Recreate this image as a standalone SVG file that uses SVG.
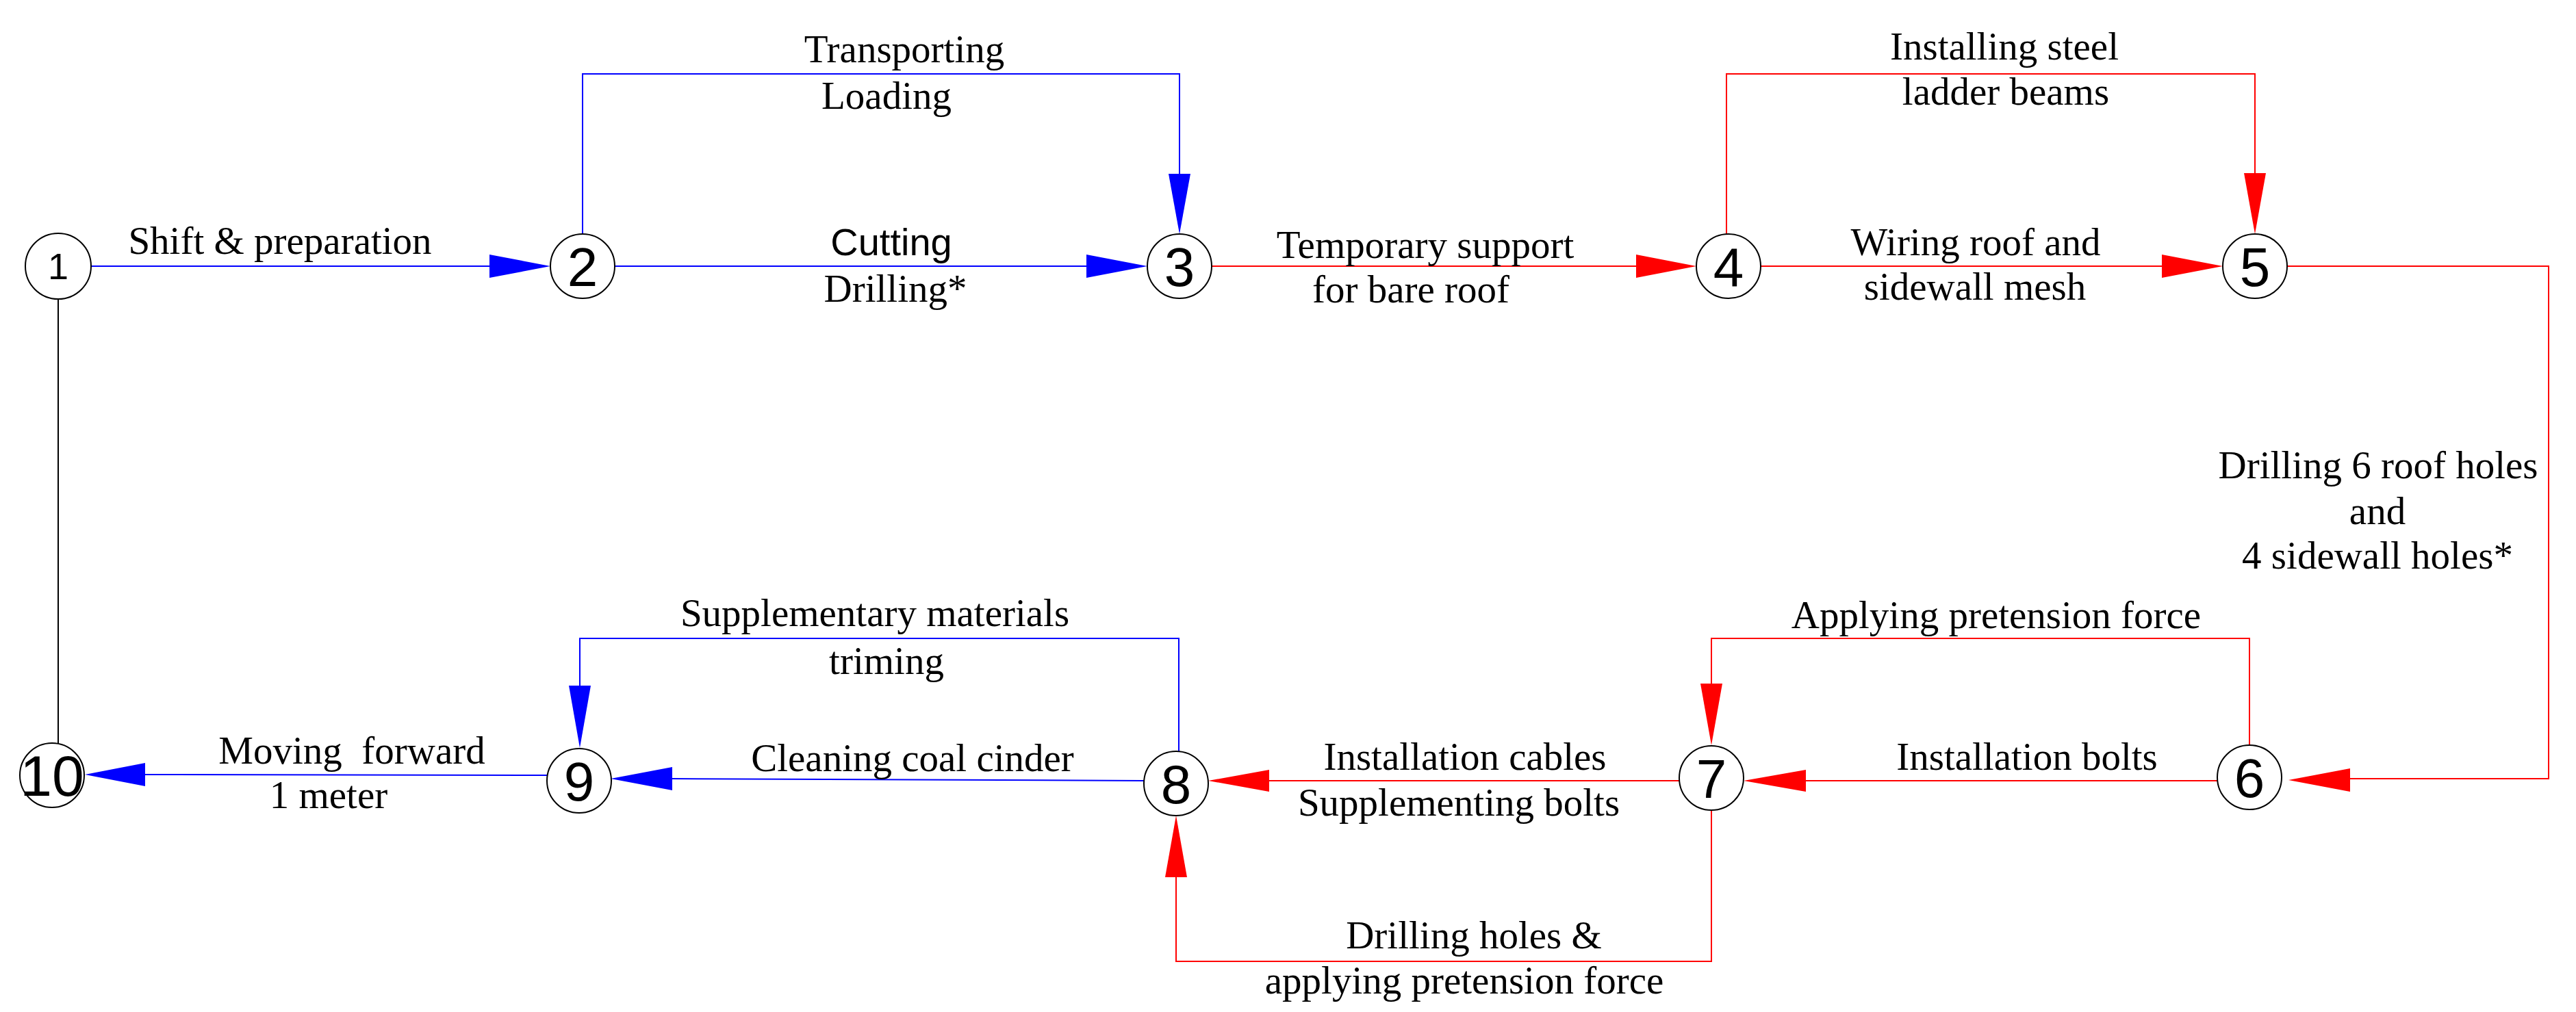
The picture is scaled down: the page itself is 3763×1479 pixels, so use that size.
<svg xmlns="http://www.w3.org/2000/svg" width="3763" height="1479" viewBox="0 0 3763 1479">
<style>
.bg{fill:#ffffff}
.node circle{fill:#ffffff;stroke:#000000;stroke-width:2}
.num{font-family:"Liberation Sans",Arial,sans-serif;font-size:80px;text-anchor:middle;fill:#000}
.lbl{font-family:"Liberation Serif","Times New Roman",serif;font-size:57px;text-anchor:middle;fill:#000}
.sans{font-family:"Liberation Sans",Arial,sans-serif;font-size:56px;text-anchor:middle;fill:#000}
.b{stroke:#0000ff;stroke-width:2;fill:none}
.r{stroke:#ff0000;stroke-width:2;fill:none}
.k{stroke:#000000;stroke-width:2;fill:none}
.ab{fill:#0000ff}
.ar{fill:#ff0000}
</style>
<rect class="bg" x="0" y="0" width="3763" height="1479"/>
<g id="connectors">
  <line class="k" x1="85" y1="437" x2="85" y2="1087"/>
  <line class="b" x1="133" y1="389" x2="716" y2="389"/>
  <polygon class="ab" points="804,389 715,372 715,406"/>
  <path class="b" d="M851,342 V108 H1723 V254"/>
  <polygon class="ab" points="1723,342 1707,254 1739,254"/>
  <line class="b" x1="898" y1="389" x2="1588" y2="389"/>
  <polygon class="ab" points="1676,389 1587,372 1587,406"/>
  <line class="r" x1="1770" y1="389" x2="2391" y2="389"/>
  <polygon class="ar" points="2478,389 2390,372 2390,406"/>
  <path class="r" d="M2522,342 V108 H3294 V254"/>
  <polygon class="ar" points="3294,342 3278,253 3310,253"/>
  <line class="r" x1="2572" y1="389" x2="3159" y2="389"/>
  <polygon class="ar" points="3247,389 3158,372 3158,406"/>
  <path class="r" d="M3341,389 H3723 V1138 H3432"/>
  <polygon class="ar" points="3343,1140 3433,1123 3433,1157"/>
  <path class="r" d="M3286,1089 V933 H2500 V1000"/>
  <polygon class="ar" points="2500,1089 2484,999 2516,999"/>
  <line class="r" x1="3239" y1="1141" x2="2637" y2="1141"/>
  <polygon class="ar" points="2547,1141 2638,1125 2638,1157"/>
  <line class="r" x1="2453" y1="1141" x2="1853" y2="1141"/>
  <polygon class="ar" points="1765,1141 1854,1125 1854,1157"/>
  <path class="r" d="M2500,1184 V1405 H1718 V1281"/>
  <polygon class="ar" points="1718,1192 1702,1282 1734,1282"/>
  <path class="b" d="M1722,1098 V933 H847 V1003"/>
  <polygon class="ab" points="847,1093 831,1002 863,1002"/>
  <line class="b" x1="1671" y1="1141" x2="981" y2="1138"/>
  <polygon class="ab" points="892,1138 982,1121 982,1155"/>
  <line class="b" x1="799" y1="1133" x2="211" y2="1132"/>
  <polygon class="ab" points="124,1132 212,1115 212,1149"/>
</g>
<g id="labels">
  <text class="lbl" x="409" y="371">Shift &amp; preparation</text>
  <text class="lbl" x="1321" y="91">Transporting</text>
  <text class="lbl" x="1295" y="159">Loading</text>
  <text class="sans" x="1302" y="373">Cutting</text>
  <text class="lbl" x="1308" y="441">Drilling*</text>
  <text class="lbl" x="2082" y="377">Temporary support</text>
  <text class="lbl" x="2061" y="442">for bare roof</text>
  <text class="lbl" x="2928" y="87">Installing steel</text>
  <text class="lbl" x="2930" y="153">ladder beams</text>
  <text class="lbl" x="2886" y="373">Wiring roof and</text>
  <text class="lbl" x="2885" y="438">sidewall mesh</text>
  <text class="lbl" x="3474" y="699">Drilling 6 roof holes</text>
  <text class="lbl" x="3473" y="766">and</text>
  <text class="lbl" x="3473" y="831">4 sidewall holes*</text>
  <text class="lbl" x="2916" y="918">Applying pretension force</text>
  <text class="lbl" x="2961" y="1125">Installation bolts</text>
  <text class="lbl" x="2140" y="1125">Installation cables</text>
  <text class="lbl" x="2131" y="1192">Supplementing bolts</text>
  <text class="lbl" x="2153" y="1386">Drilling holes &amp;</text>
  <text class="lbl" x="2139" y="1452">applying pretension force</text>
  <text class="lbl" x="1278" y="915">Supplementary materials</text>
  <text class="lbl" x="1295" y="985">triming</text>
  <text class="lbl" x="1333" y="1127">Cleaning coal cinder</text>
  <text class="lbl" x="514" y="1116" xml:space="preserve">Moving  forward</text>
  <text class="lbl" x="480" y="1181">1 meter</text>
</g>
<g id="node1" class="node"><circle cx="85" cy="389" r="48"/><text class="num" x="85" y="408" style="font-size:54px">1</text></g>
<g id="node2" class="node"><circle cx="851" cy="389" r="47"/><text class="num" x="851" y="418">2</text></g>
<g id="node3" class="node"><circle cx="1723" cy="389" r="47"/><text class="num" x="1723" y="418">3</text></g>
<g id="node4" class="node"><circle cx="2525" cy="389" r="47"/><text class="num" x="2525" y="418">4</text></g>
<g id="node5" class="node"><circle cx="3294" cy="389" r="47"/><text class="num" x="3294" y="418">5</text></g>
<g id="node6" class="node"><circle cx="3286" cy="1136" r="47"/><text class="num" x="3286" y="1165">6</text></g>
<g id="node7" class="node"><circle cx="2500" cy="1137" r="47"/><text class="num" x="2500" y="1166">7</text></g>
<g id="node8" class="node"><circle cx="1718" cy="1145" r="47"/><text class="num" x="1718" y="1174">8</text></g>
<g id="node9" class="node"><circle cx="846" cy="1141" r="47"/><text class="num" x="846" y="1170">9</text></g>
<g id="node10" class="node"><circle cx="76" cy="1133" r="47"/><text class="num" x="76" y="1163" style="font-size:84px">10</text></g>
</svg>
